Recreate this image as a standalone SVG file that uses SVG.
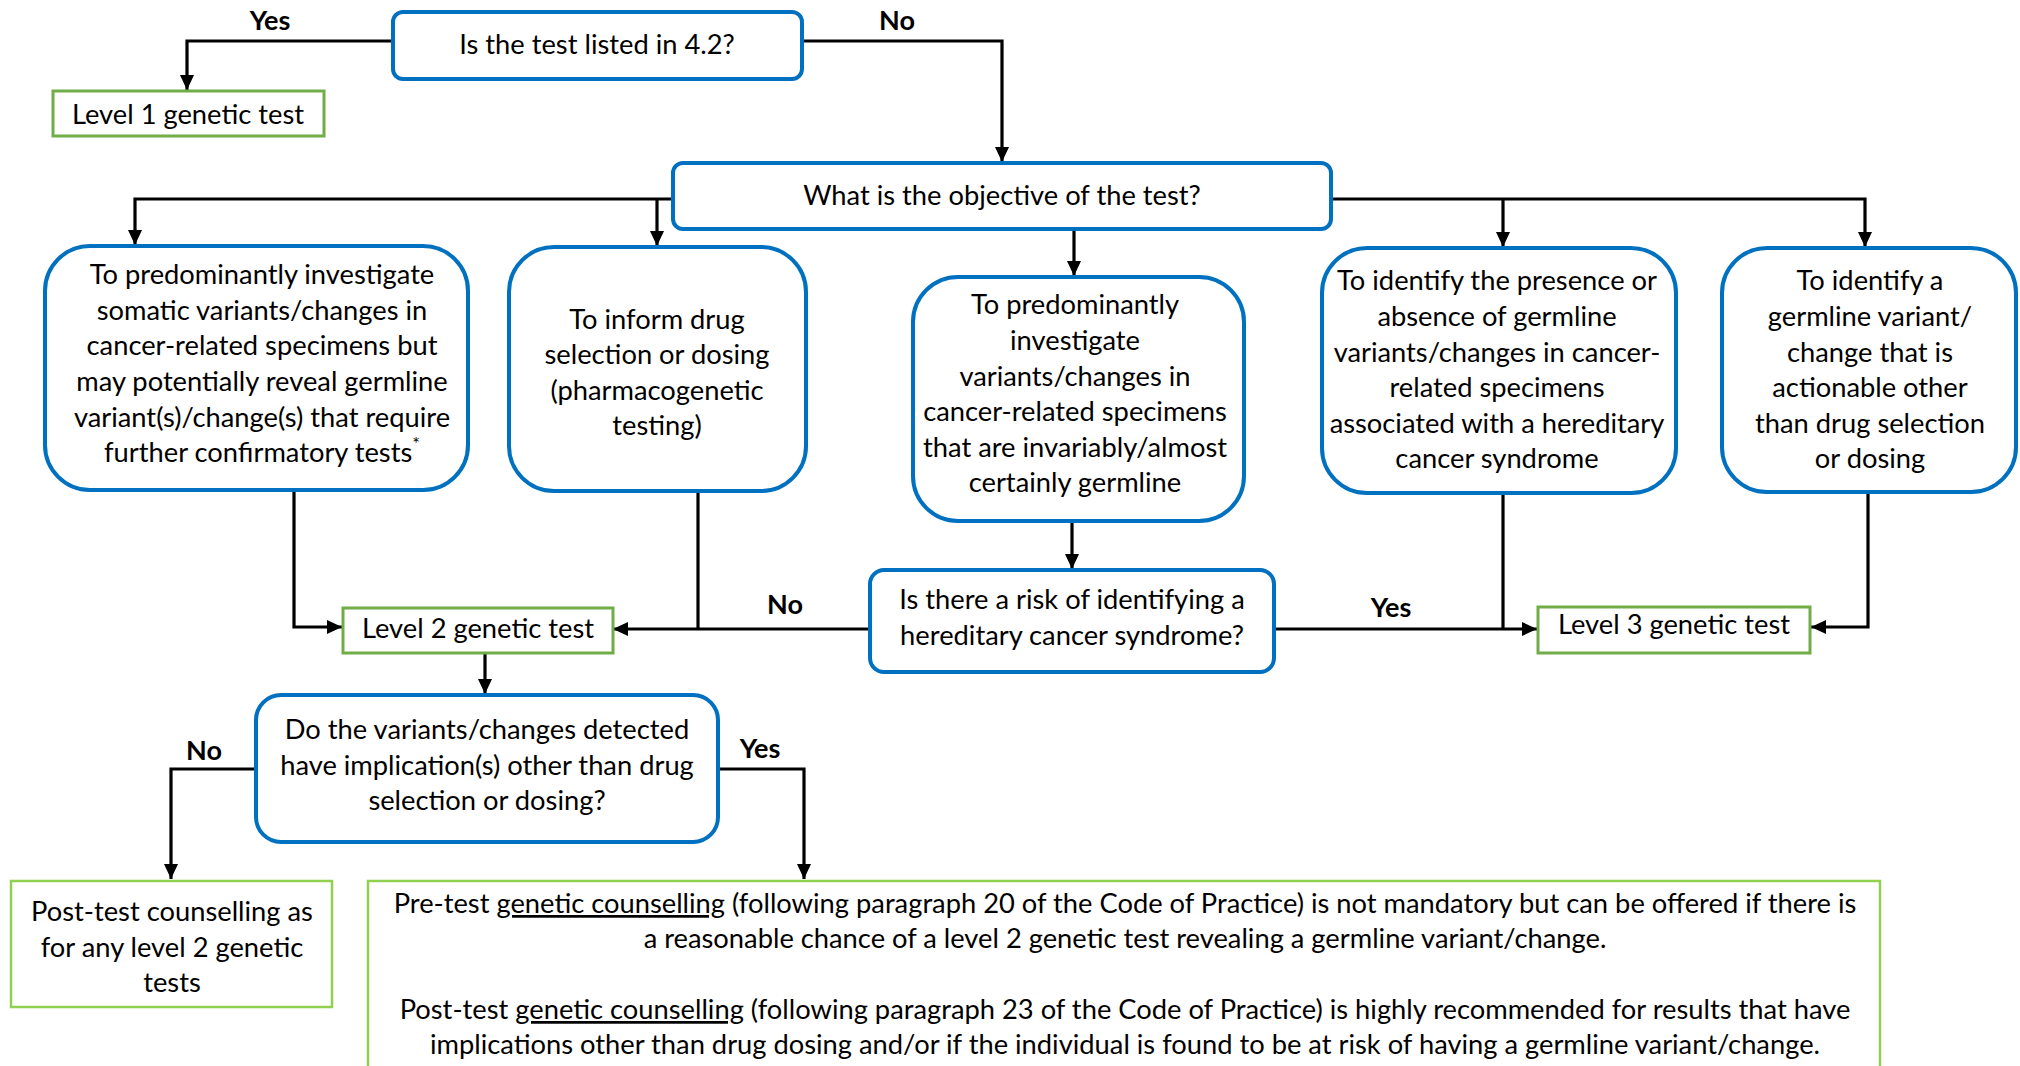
<svg xmlns="http://www.w3.org/2000/svg" width="2020" height="1066" viewBox="0 0 2020 1066">
<defs>
<marker id="ah" markerUnits="userSpaceOnUse" markerWidth="16" markerHeight="14" refX="15" refY="7" orient="auto">
<path d="M0,0 L15,7 L0,14 z" fill="#000"/>
</marker>
<style>
.q{fill:#fff;stroke:#0070C0;stroke-width:4}
.lv{fill:#fff;stroke:#70AD47;stroke-width:3}
.gb{fill:#fff;stroke:#92D050;stroke-width:2.5}
.t{font-family:Lato,"Liberation Sans",sans-serif;font-size:27.3px;fill:#000;text-anchor:middle}
.lb{font-family:Lato,"Liberation Sans",sans-serif;font-size:27px;font-weight:bold;fill:#000;text-anchor:middle}
.c{fill:none;stroke:#000;stroke-width:3.2}
.a{marker-end:url(#ah)}
</style>
</defs>
<rect width="2020" height="1066" fill="#fff"/>

<g id="connectors">
<path class="c a" d="M393,41 H187 V90"/>
<path class="c a" d="M802,41 H1002 V162"/>
<path class="c a" d="M673,199 H135 V245"/>
<path class="c a" d="M657,199 V246"/>
<path class="c a" d="M1074,229 V276"/>
<path class="c a" d="M1331,199 H1865 V247"/>
<path class="c a" d="M1503,199 V247"/>
<path class="c a" d="M294,490 V627 H342"/>
<path class="c" d="M698,491 V629"/>
<path class="c a" d="M870,629 H613"/>
<path class="c a" d="M1072,521 V569"/>
<path class="c a" d="M1274,629 H1537"/>
<path class="c" d="M1503,493 V629"/>
<path class="c a" d="M1868,492 V627 H1811"/>
<path class="c a" d="M485,653 V694"/>
<path class="c a" d="M256,769 H171 V879"/>
<path class="c a" d="M718,769 H804 V879"/>
<text class="lb" x="270" y="30">Yes</text>
<text class="lb" x="897" y="30">No</text>
<text class="lb" x="785" y="614">No</text>
<text class="lb" x="1391" y="617">Yes</text>
<text class="lb" x="204" y="760">No</text>
<text class="lb" x="760" y="758">Yes</text>
</g>

<g id="q-listed">
<rect class="q" x="393" y="12" width="409" height="67" rx="10"/>
<text class="t" x="597" y="54">Is the test listed in 4.2?</text>
</g>

<g id="level1">
<rect class="lv" x="53" y="91" width="271" height="45"/>
<text class="t" x="188" y="124">Level 1 genetic test</text>
</g>

<g id="q-objective">
<rect class="q" x="673" y="163" width="658" height="66" rx="10"/>
<text class="t" x="1002" y="205">What is the objective of the test?</text>
</g>

<g id="obj-somatic">
<rect class="q" x="45" y="246" width="423" height="244" rx="45"/>
<text class="t" x="262" y="284">To predominantly investigate</text>
<text class="t" x="262" y="320">somatic variants/changes in</text>
<text class="t" x="262" y="355">cancer-related specimens but</text>
<text class="t" x="262" y="391">may potentially reveal germline</text>
<text class="t" x="262" y="427">variant(s)/change(s) that require</text>
<text class="t" x="262" y="462">further confirmatory tests<tspan font-size="18" dy="-12">*</tspan></text>
</g>

<g id="obj-drug">
<rect class="q" x="509" y="247" width="297" height="244" rx="45"/>
<text class="t" x="657" y="329">To inform drug</text>
<text class="t" x="657" y="364">selection or dosing</text>
<text class="t" x="657" y="400">(pharmacogenetic</text>
<text class="t" x="657" y="435">testing)</text>
</g>

<g id="obj-germline">
<rect class="q" x="913" y="277" width="331" height="244" rx="45"/>
<text class="t" x="1075" y="314">To predominantly</text>
<text class="t" x="1075" y="350">investigate</text>
<text class="t" x="1075" y="386">variants/changes in</text>
<text class="t" x="1075" y="421">cancer-related specimens</text>
<text class="t" x="1075" y="457">that are invariably/almost</text>
<text class="t" x="1075" y="492">certainly germline</text>
</g>

<g id="obj-hereditary">
<rect class="q" x="1322" y="248" width="354" height="245" rx="45"/>
<text class="t" x="1497" y="290">To identify the presence or</text>
<text class="t" x="1497" y="326">absence of germline</text>
<text class="t" x="1497" y="362">variants/changes in cancer-</text>
<text class="t" x="1497" y="397">related specimens</text>
<text class="t" x="1497" y="433">associated with a hereditary</text>
<text class="t" x="1497" y="468">cancer syndrome</text>
</g>

<g id="obj-actionable">
<rect class="q" x="1722" y="248" width="294" height="244" rx="45"/>
<text class="t" x="1870" y="290">To identify a</text>
<text class="t" x="1870" y="326">germline variant/</text>
<text class="t" x="1870" y="362">change that is</text>
<text class="t" x="1870" y="397">actionable other</text>
<text class="t" x="1870" y="433">than drug selection</text>
<text class="t" x="1870" y="468">or dosing</text>
</g>

<g id="q-risk">
<rect class="q" x="870" y="570" width="404" height="102" rx="14"/>
<text class="t" x="1072" y="609">Is there a risk of identifying a</text>
<text class="t" x="1072" y="645">hereditary cancer syndrome?</text>
</g>

<g id="level2">
<rect class="lv" x="343" y="608" width="270" height="45"/>
<text class="t" x="478" y="638">Level 2 genetic test</text>
</g>

<g id="level3">
<rect class="lv" x="1538" y="607" width="272" height="46"/>
<text class="t" x="1674" y="634">Level 3 genetic test</text>
</g>

<g id="q-implications">
<rect class="q" x="256" y="695" width="462" height="147" rx="25"/>
<text class="t" x="487" y="739">Do the variants/changes detected</text>
<text class="t" x="487" y="775">have implication(s) other than drug</text>
<text class="t" x="487" y="810">selection or dosing?</text>
</g>

<g id="post-test">
<rect class="gb" x="11" y="881" width="321" height="126"/>
<text class="t" x="172" y="921">Post-test counselling as</text>
<text class="t" x="172" y="957">for any level 2 genetic</text>
<text class="t" x="172" y="992">tests</text>
</g>

<g id="counselling">
<rect class="gb" x="368" y="881" width="1512" height="200"/>
<text class="t" x="1125" y="913">Pre-test <tspan text-decoration="underline">genetic counselling</tspan> (following paragraph 20 of the Code of Practice) is not mandatory but can be offered if there is</text>
<text class="t" x="1125" y="948">a reasonable chance of a level 2 genetic test revealing a germline variant/change.</text>
<text class="t" x="1125" y="1019">Post-test <tspan text-decoration="underline">genetic counselling</tspan> (following paragraph 23 of the Code of Practice) is highly recommended for results that have</text>
<text class="t" x="1125" y="1054">implications other than drug dosing and/or if the individual is found to be at risk of having a germline variant/change.</text>
</g>
</svg>
